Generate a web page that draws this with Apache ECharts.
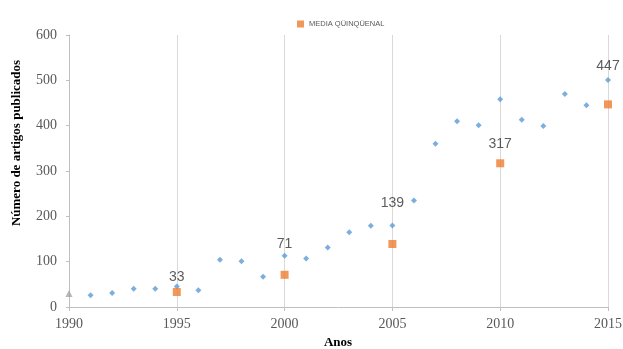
<!DOCTYPE html>
<html>
<head>
<meta charset="utf-8">
<script src="https://cdn.jsdelivr.net/npm/echarts@6/dist/echarts.min.js"></script>
<style>
html, body { margin: 0; padding: 0; background: #fff; }
#chart { width: 623px; height: 349px; }
</style>
</head>
<body>
<div id="chart"></div>
<script>
// annual counts 1991-2015 (1990 drawn separately as grey triangle)
var years = [1991, 1992, 1993, 1994, 1995, 1996, 1997, 1998, 1999, 2000, 2001, 2002, 2003,
    2004, 2005, 2006, 2007, 2008, 2009, 2010, 2011, 2012, 2013, 2014, 2015];
var annual = [26, 31, 40, 40, 45, 37, 104, 101, 67, 113, 107, 131, 165,
    179, 180, 235, 360, 410, 401, 458, 413, 399, 470, 445, 501];
var firstYear = [1990];
var firstValue = [30];
var mediaYears = [1995, 2000, 2005, 2010, 2015];
var mediaValues = [33, 71, 139, 317, 447];

// how far each media label sits above its square (label placement only)
var labelGap = [4, 20, 30, 8, 27];

var myChart = echarts.init(document.getElementById('chart'));
var serif = '"Liberation Serif", "DejaVu Serif", serif';
var sans = 'Arial, "Liberation Sans", sans-serif';

var option = {
    backgroundColor: '#fff',
    animation: false,
    legend: {
        data: ['MEDIA QÜINQÜENAL'],
        top: 15,
        left: 292,
        itemWidth: 7,
        itemHeight: 7,
        itemGap: 4,
        textStyle: {
            color: '#595959',
            fontSize: 7.5,
            fontFamily: sans
        }
    },
    grid: {
        left: 69,
        right: 15,
        top: 35,
        bottom: 42,
        outerBoundsMode: 'none'
    },
    xAxis: {
        type: 'value',
        min: 1990,
        max: 2015,
        interval: 5,
        axisLine: {
            show: true,
            lineStyle: { color: '#bfbfbf', width: 1 }
        },
        axisTick: {
            show: true,
            length: 4,
            lineStyle: { color: '#bfbfbf' }
        },
        axisLabel: {
            color: '#595959',
            fontSize: 14,
            fontFamily: serif,
            margin: 10,
            formatter: function (v) { return String(v); }
        },
        splitLine: {
            show: true,
            lineStyle: { color: '#d9d9d9', width: 1 }
        }
    },
    yAxis: {
        type: 'value',
        min: 0,
        max: 600,
        interval: 100,
        axisLine: {
            show: true,
            lineStyle: { color: '#bfbfbf', width: 1 }
        },
        axisTick: {
            show: true,
            length: 3,
            lineStyle: { color: '#bfbfbf' }
        },
        axisLabel: {
            color: '#595959',
            fontSize: 14,
            fontFamily: serif,
            margin: 12
        },
        splitLine: { show: false }
    },
    graphic: [
        {
            type: 'text',
            x: 17,
            y: 143,
            rotation: Math.PI / 2,
            style: {
                text: 'Número de artigos publicados',
                fill: '#000',
                font: 'bold 13px ' + serif,
                align: 'center',
                verticalAlign: 'middle'
            }
        },
        {
            type: 'text',
            x: 338,
            y: 343,
            style: {
                text: 'Anos',
                fill: '#000',
                font: 'bold 13px ' + serif,
                align: 'center',
                verticalAlign: 'middle'
            }
        }
    ],
    series: [
        {
            name: 'anual',
            type: 'scatter',
            symbol: 'diamond',
            symbolSize: 6,
            itemStyle: { color: '#5b9bd5' },
            data: years.map(function (y, i) { return [y, annual[i]]; })
        },
        {
            name: 'inicio',
            type: 'scatter',
            symbol: 'triangle',
            symbolSize: 7,
            itemStyle: { color: '#a5a5a5' },
            data: firstYear.map(function (y, i) { return [y, firstValue[i]]; })
        },
        {
            name: 'MEDIA QÜINQÜENAL',
            type: 'scatter',
            symbol: 'rect',
            symbolSize: 8,
            itemStyle: { color: '#ed7d31' },
            label: {
                show: true,
                position: 'top',
                color: '#333',
                fontSize: 14,
                fontFamily: sans,
                formatter: function (p) { return p.value[1]; }
            },
            data: mediaYears.map(function (y, i) {
                return {
                    value: [y, mediaValues[i]],
                    label: { distance: labelGap[i] }
                };
            })
        }
    ]
};
myChart.setOption(option);
</script>
</body>
</html>
